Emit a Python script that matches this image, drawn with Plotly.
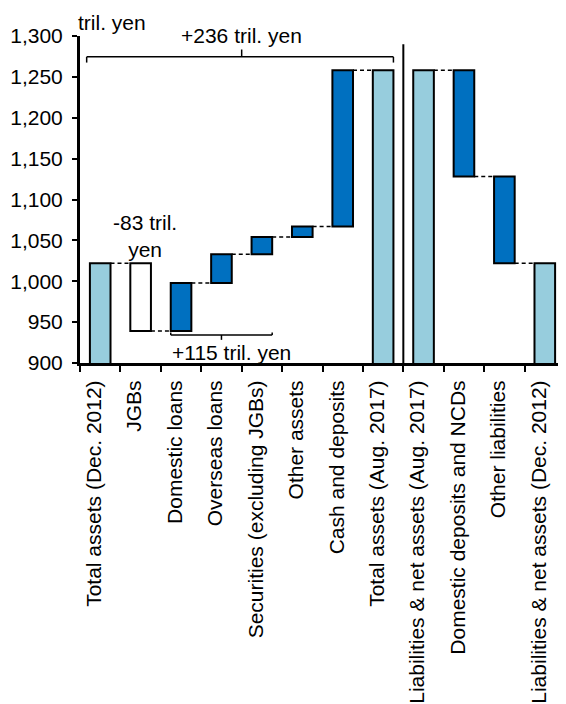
import plotly.graph_objects as go

# ---- data ----
categories = [
    "Total assets (Dec. 2012)", "JGBs", "Domestic loans", "Overseas loans",
    "Securities (excluding JGBs)", "Other assets", "Cash and deposits",
    "Total assets (Aug. 2017)", "Liabilities & net assets (Aug. 2017)",
    "Domestic deposits and NCDs", "Other liabilities",
    "Liabilities & net assets (Dec. 2012)",
]
# "total" bars are absolute levels, "delta" bars are changes (tril. yen)
bar_kind = ["total", "delta", "delta", "delta", "delta", "delta", "delta",
            "total", "total", "delta", "delta", "total"]
bar_value = [1022, -83, 59, 35, 21, 13, 191, 1258, 1258, -130, -106, 1022]
y_ticks = [900, 950, 1000, 1050, 1100, 1150, 1200, 1250, 1300]
unit_label = "tril. yen"
bracket_texts = ["+236 tril. yen", "-83 tril.<br>yen", "+115 tril. yen"]

# ---- styles ----
LIGHT = "#97CDDD"
DARK = "#0070C0"
bar_colors = [LIGHT, "#FFFFFF", DARK, DARK, DARK, DARK, DARK,
              LIGHT, LIGHT, DARK, DARK, LIGHT]
FONT = "Liberation Sans, Arial, sans-serif"
FS = 21
BW = 0.51
Y0, Y1 = 900, 1300

# ---- compute waterfall geometry ----
bases, heights, level_after = [], [], []
level = None
for kind, v in zip(bar_kind, bar_value):
    if kind == "total":
        bases.append(0)
        heights.append(v)
        level = v
    else:
        new = level + v
        bases.append(min(level, new))
        heights.append(abs(v))
        level = new
    level_after.append(level)

fig = go.Figure()
fig.add_trace(go.Bar(
    x=categories, y=heights, base=bases, width=BW,
    marker=dict(color=bar_colors, line=dict(color="black", width=2)),
    hoverinfo="skip",
))

LW = 1.5
shapes = []
# dashed connectors
for i in range(len(categories) - 1):
    if i == 7:
        continue
    shapes.append(dict(type="line", xref="x", yref="y",
                       x0=i + BW / 2, x1=i + 1 - BW / 2,
                       y0=level_after[i], y1=level_after[i],
                       line=dict(color="black", width=LW, dash="4px,3px")))
# divider between assets and liabilities
shapes.append(dict(type="line", xref="x", yref="y", x0=7.5, x1=7.5,
                   y0=895, y1=1290, line=dict(color="black", width=2)))

# top bracket (+236)
tl, tr = 0 - BW / 2 - 0.08, 7 + BW / 2
ty = 1274.5
tc = (0 + 7) / 2
shapes += [
    dict(type="line", xref="x", yref="y", x0=tl, x1=tr, y0=ty, y1=ty,
         line=dict(color="black", width=LW)),
    dict(type="line", xref="x", yref="y", x0=tl, x1=tl, y0=ty, y1=ty - 7,
         line=dict(color="black", width=LW)),
    dict(type="line", xref="x", yref="y", x0=tr, x1=tr, y0=ty, y1=ty - 7,
         line=dict(color="black", width=LW)),
    dict(type="line", xref="x", yref="y", x0=tc, x1=tc, y0=ty, y1=ty + 9,
         line=dict(color="black", width=LW)),
]
# bottom bracket (+115): domestic loans .. securities
bl, br = 2 - BW / 2, 4 + BW / 2
by = 934.3
bc = 3
shapes += [
    dict(type="line", xref="x", yref="y", x0=bl, x1=br, y0=by, y1=by,
         line=dict(color="black", width=LW)),
    dict(type="line", xref="x", yref="y", x0=bl, x1=bl, y0=by, y1=by + 3,
         line=dict(color="black", width=LW)),
    dict(type="line", xref="x", yref="y", x0=br, x1=br, y0=by, y1=by + 3,
         line=dict(color="black", width=LW)),
    dict(type="line", xref="x", yref="y", x0=bc, x1=bc, y0=by, y1=by - 6,
         line=dict(color="black", width=LW)),
]

def py(v):
    return (v - Y0) / (Y1 - Y0)

annotations = [
    dict(text=unit_label, xref="paper", yref="paper", x=-0.008, y=1.0,
         xanchor="left", yanchor="bottom", showarrow=False,
         font=dict(family=FONT, size=FS, color="black")),
    dict(text=bracket_texts[0], xref="x", yref="paper", x=tc, y=py(1301),
         xanchor="center", yanchor="middle", showarrow=False,
         font=dict(family=FONT, size=FS, color="black")),
    dict(text=bracket_texts[1], xref="x", yref="y", x=1.11, y=1055,
         xanchor="center", yanchor="middle", showarrow=False,
         font=dict(family=FONT, size=FS, color="black")),
    dict(text=bracket_texts[2], xref="x", yref="paper", x=3.25, y=py(913),
         xanchor="center", yanchor="middle", showarrow=False,
         font=dict(family=FONT, size=FS, color="black")),
]

# page body has an 8px margin: shrink the figure to fit the window
fig.update_layout(
    width=558, height=696,
    margin=dict(l=72, r=1, t=28, b=341, autoexpand=False),
    paper_bgcolor="white", plot_bgcolor="white",
    showlegend=False,
    font=dict(family=FONT, size=FS, color="black"),
    shapes=shapes, annotations=annotations,
)
fig.update_xaxes(
    type="category", tickangle=-90, tickson="boundaries",
    ticks="outside", ticklen=6, tickwidth=2, tickcolor="black",
    showline=True, linecolor="black", linewidth=3,
    showgrid=False, zeroline=False, automargin=False,
    ticklabelstandoff=6, ticklabelshift=-6,
    tickfont=dict(family=FONT, size=FS, color="black"),
)
fig.update_yaxes(
    range=[Y0, Y1], tickvals=y_ticks, tickformat=",d",
    ticks="outside", ticklen=5, tickwidth=2, tickcolor="black",
    showline=True, linecolor="black", linewidth=3,
    showgrid=False, zeroline=False, automargin=False,
    ticklabelstandoff=5,
    tickfont=dict(family=FONT, size=FS, color="black"),
)

fig.write_html("out.html")
